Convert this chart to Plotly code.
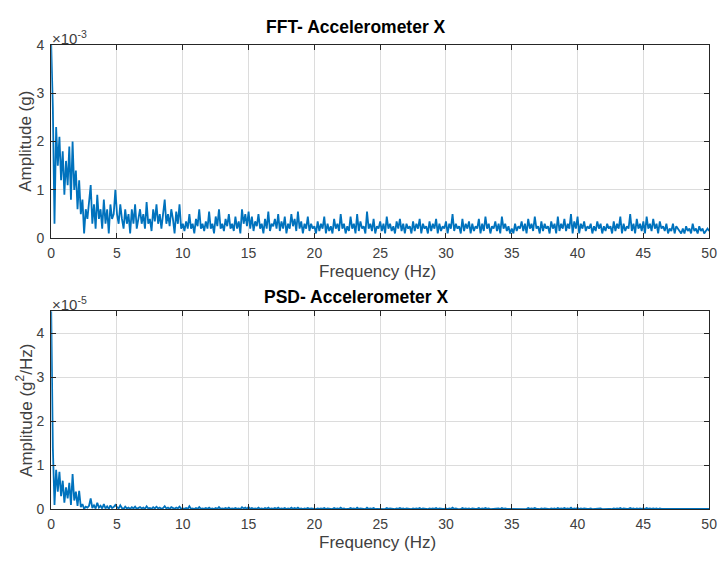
import numpy as np
import plotly.graph_objects as go

# Frequency axis step 0.125 Hz, 0..50 Hz
freq_step = 0.125
# FFT amplitude (x1e-3 g), 8 samples per Hz
fft_amp = [
    4.0, 2.7, 0.3, 2.3, 1.5, 2.1, 1.2, 1.8,
    0.9, 1.6, 1.1, 1.9, 0.8, 2.0, 1.0, 1.4,
    0.6, 1.2, 0.5, 0.8, 0.1, 0.6, 0.4, 0.7,
    1.1, 0.3, 0.7, 0.2, 0.9, 0.4, 0.6, 0.2,
    0.8, 0.3, 0.6, 0.1, 0.7, 0.4, 0.5, 1.0,
    0.5, 0.3, 0.7, 0.4, 0.2, 0.6, 0.3, 0.5,
    0.1, 0.6, 0.3, 0.7, 0.2, 0.4, 0.6, 0.3,
    0.5, 0.2, 0.75, 0.3, 0.4, 0.15, 0.6, 0.35,
    0.7, 0.3, 0.5, 0.2, 0.45, 0.8, 0.3, 0.5,
    0.25, 0.6, 0.4, 0.1, 0.55, 0.3, 0.7, 0.2,
    0.3, 0.15, 0.35, 0.2, 0.5, 0.2, 0.3, 0.1,
    0.4, 0.25, 0.6, 0.2, 0.3, 0.15, 0.35, 0.2,
    0.55, 0.2, 0.3, 0.1, 0.45, 0.25, 0.6, 0.2,
    0.3, 0.15, 0.4, 0.25, 0.5, 0.2, 0.3, 0.15,
    0.45, 0.2, 0.35, 0.1, 0.6, 0.3, 0.5, 0.25,
    0.55, 0.2, 0.45, 0.15, 0.35, 0.25, 0.5, 0.2,
    0.3, 0.1, 0.4, 0.2, 0.55, 0.15, 0.3, 0.25,
    0.4, 0.2, 0.5, 0.15, 0.35, 0.2, 0.45, 0.1,
    0.3, 0.2, 0.5, 0.25, 0.4, 0.15, 0.55, 0.2,
    0.35, 0.1, 0.3, 0.2, 0.45, 0.15, 0.3, 0.2,
    0.25, 0.1, 0.35, 0.15, 0.3, 0.2, 0.45, 0.1,
    0.3, 0.15, 0.25, 0.1, 0.4, 0.2, 0.3, 0.15,
    0.5, 0.2, 0.3, 0.1, 0.25, 0.15, 0.45, 0.2,
    0.3, 0.1, 0.5, 0.15, 0.35, 0.2, 0.25, 0.1,
    0.55, 0.2, 0.3, 0.15, 0.4, 0.1, 0.25, 0.2,
    0.35, 0.15, 0.3, 0.1, 0.45, 0.2, 0.3, 0.15,
    0.25, 0.1, 0.35, 0.2, 0.4, 0.15, 0.3, 0.1,
    0.3, 0.2, 0.25, 0.1, 0.35, 0.15, 0.3, 0.2,
    0.4, 0.1, 0.3, 0.2, 0.25, 0.1, 0.35, 0.15,
    0.3, 0.2, 0.4, 0.1, 0.3, 0.15, 0.25, 0.2,
    0.35, 0.1, 0.3, 0.2, 0.5, 0.15, 0.3, 0.2,
    0.25, 0.1, 0.4, 0.15, 0.3, 0.2, 0.35, 0.1,
    0.3, 0.15, 0.25, 0.2, 0.4, 0.1, 0.3, 0.15,
    0.45, 0.2, 0.3, 0.1, 0.25, 0.2, 0.35, 0.15,
    0.3, 0.1, 0.45, 0.2, 0.3, 0.15, 0.25, 0.1,
    0.2, 0.1, 0.3, 0.15, 0.25, 0.2, 0.35, 0.15,
    0.3, 0.1, 0.4, 0.2, 0.3, 0.15, 0.45, 0.2,
    0.25, 0.1, 0.35, 0.15, 0.3, 0.2, 0.25, 0.1,
    0.35, 0.2, 0.3, 0.1, 0.45, 0.15, 0.3, 0.2,
    0.4, 0.15, 0.3, 0.2, 0.5, 0.1, 0.35, 0.2,
    0.45, 0.1, 0.3, 0.2, 0.35, 0.15, 0.25, 0.2,
    0.3, 0.1, 0.25, 0.15, 0.35, 0.2, 0.3, 0.1,
    0.25, 0.15, 0.3, 0.2, 0.25, 0.1, 0.35, 0.15,
    0.3, 0.2, 0.45, 0.1, 0.3, 0.15, 0.25, 0.2,
    0.5, 0.15, 0.3, 0.1, 0.4, 0.2, 0.3, 0.15,
    0.35, 0.1, 0.45, 0.2, 0.3, 0.15, 0.4, 0.2,
    0.3, 0.1, 0.35, 0.2, 0.25, 0.15, 0.3, 0.1,
    0.2, 0.15, 0.3, 0.1, 0.25, 0.2, 0.15, 0.1,
    0.2, 0.1, 0.25, 0.15, 0.2, 0.1, 0.3, 0.15,
    0.2, 0.1, 0.25, 0.15, 0.2, 0.1, 0.15, 0.2,
    0.15,
]

# PSD amplitude (x1e-5 g^2/Hz), 8 samples per Hz
psd_amp = [
    4.5, 1.4, 0.1, 0.9, 0.4, 0.85, 0.3, 0.65,
    0.15, 0.5, 0.25, 0.6, 0.1, 0.8, 0.2, 0.4,
    0.08, 0.42, 0.05, 0.12, 0.01, 0.06, 0.04, 0.08,
    0.25, 0.03, 0.09, 0.02, 0.15, 0.04, 0.08, 0.02,
    0.12, 0.02, 0.07, 0.01, 0.09, 0.03, 0.05, 0.1,
    0.05, 0.02, 0.09, 0.03, 0.01, 0.06, 0.02, 0.04,
    0.01, 0.05, 0.02, 0.06, 0.01, 0.03, 0.05, 0.02,
    0.04, 0.01, 0.07, 0.02, 0.03, 0.01, 0.05, 0.02,
    0.06, 0.02, 0.04, 0.01, 0.03, 0.07, 0.02, 0.04,
    0.01, 0.05, 0.03, 0.01, 0.04, 0.02, 0.06, 0.01,
    0.02, 0.01, 0.03, 0.01, 0.07, 0.01, 0.02, 0.005,
    0.03, 0.01, 0.05, 0.01, 0.02, 0.01, 0.03, 0.01,
    0.04, 0.01, 0.02, 0.005, 0.03, 0.01, 0.05, 0.01,
    0.02, 0.01, 0.03, 0.01, 0.04, 0.01, 0.02, 0.01,
    0.03, 0.01, 0.02, 0.005, 0.05, 0.02, 0.04, 0.01,
    0.05, 0.01, 0.03, 0.01, 0.02, 0.01, 0.04, 0.01,
    0.02, 0.005, 0.03, 0.01, 0.04, 0.01, 0.02, 0.01,
    0.03, 0.01, 0.04, 0.01, 0.02, 0.01, 0.03, 0.005,
    0.02, 0.01, 0.04, 0.01, 0.03, 0.01, 0.04, 0.01,
    0.02, 0.005, 0.02, 0.01, 0.03, 0.01, 0.02, 0.01,
    0.01, 0.005, 0.02, 0.01, 0.02, 0.01, 0.03, 0.005,
    0.02, 0.01, 0.01, 0.005, 0.03, 0.01, 0.02, 0.01,
    0.04, 0.01, 0.02, 0.005, 0.01, 0.01, 0.03, 0.01,
    0.02, 0.005, 0.04, 0.01, 0.02, 0.01, 0.01, 0.005,
    0.04, 0.01, 0.02, 0.01, 0.03, 0.005, 0.01, 0.01,
    0.02, 0.01, 0.02, 0.005, 0.03, 0.01, 0.02, 0.01,
    0.01, 0.005, 0.02, 0.01, 0.03, 0.01, 0.02, 0.005,
    0.02, 0.01, 0.01, 0.005, 0.02, 0.01, 0.02, 0.01,
    0.03, 0.005, 0.02, 0.01, 0.01, 0.005, 0.02, 0.01,
    0.02, 0.01, 0.03, 0.005, 0.02, 0.01, 0.01, 0.01,
    0.02, 0.005, 0.02, 0.01, 0.04, 0.01, 0.02, 0.01,
    0.01, 0.005, 0.03, 0.01, 0.02, 0.01, 0.02, 0.005,
    0.02, 0.01, 0.01, 0.01, 0.03, 0.005, 0.02, 0.01,
    0.03, 0.01, 0.02, 0.005, 0.01, 0.01, 0.02, 0.01,
    0.02, 0.005, 0.03, 0.01, 0.02, 0.01, 0.01, 0.005,
    0.01, 0.005, 0.02, 0.01, 0.01, 0.01, 0.02, 0.01,
    0.02, 0.005, 0.03, 0.01, 0.02, 0.01, 0.03, 0.01,
    0.01, 0.005, 0.02, 0.01, 0.02, 0.01, 0.01, 0.005,
    0.02, 0.01, 0.02, 0.005, 0.03, 0.01, 0.02, 0.01,
    0.03, 0.01, 0.02, 0.01, 0.04, 0.005, 0.02, 0.01,
    0.03, 0.005, 0.02, 0.01, 0.02, 0.01, 0.01, 0.01,
    0.02, 0.005, 0.01, 0.01, 0.02, 0.01, 0.02, 0.005,
    0.01, 0.01, 0.02, 0.01, 0.01, 0.005, 0.02, 0.01,
    0.02, 0.01, 0.03, 0.005, 0.02, 0.01, 0.01, 0.01,
    0.03, 0.01, 0.02, 0.005, 0.02, 0.01, 0.02, 0.01,
    0.02, 0.005, 0.03, 0.01, 0.02, 0.01, 0.02, 0.01,
    0.02, 0.005, 0.02, 0.01, 0.01, 0.01, 0.02, 0.005,
    0.01, 0.01, 0.02, 0.005, 0.01, 0.01, 0.01, 0.005,
    0.01, 0.005, 0.01, 0.01, 0.01, 0.005, 0.02, 0.01,
    0.01, 0.005, 0.01, 0.01, 0.01, 0.005, 0.01, 0.01,
    0.01,
]

x_ticks = [0, 5, 10, 15, 20, 25, 30, 35, 40, 45, 50]
y_ticks_fft = [0, 1, 2, 3, 4]
y_ticks_psd = [0, 1, 2, 3, 4]

freq = np.arange(len(fft_amp)) * freq_step
freq_psd = np.arange(len(psd_amp)) * freq_step

W, H = 726, 563
def px_x(p):
    return p / W
def px_y(p):
    return 1 - p / H

line_color = "#0072BD"
axis_color = "#262626"
grid_color = "#dcdcdc"
FONT = "Liberation Sans, Arial, sans-serif"
tick_font = dict(family=FONT, size=14, color="#404040")

fig = go.Figure()
fig.add_trace(go.Scatter(x=freq, y=fft_amp, mode="lines",
                         line=dict(color=line_color, width=1.8),
                         xaxis="x", yaxis="y", showlegend=False))
fig.add_trace(go.Scatter(x=freq_psd, y=psd_amp, mode="lines",
                         line=dict(color=line_color, width=1.8),
                         xaxis="x2", yaxis="y2", showlegend=False))

common_x = dict(range=[0, 50], tickvals=x_ticks, ticks="inside", ticklen=5,
                tickcolor=axis_color, showline=True, linecolor=axis_color, linewidth=1,
                mirror="ticks", showgrid=True, gridcolor=grid_color, gridwidth=1,
                zeroline=False, tickfont=tick_font, ticklabelstandoff=2,
                domain=[px_x(48), px_x(717)])
common_y = dict(ticks="inside", ticklen=5, tickcolor=axis_color, showline=True,
                linecolor=axis_color, linewidth=1, mirror="ticks", showgrid=True,
                gridcolor=grid_color, gridwidth=1, zeroline=False, tickfont=tick_font,
                ticklabelstandoff=3)

fig.update_layout(
    width=W, height=H,
    margin=dict(l=0, r=0, t=0, b=0),
    paper_bgcolor="white", plot_bgcolor="white",
    xaxis=dict(**common_x, anchor="y"),
    yaxis=dict(**common_y, range=[0, 4], tickvals=y_ticks_fft,
               domain=[px_y(237), px_y(38)], anchor="x"),
    xaxis2=dict(**common_x, anchor="y2"),
    yaxis2=dict(**common_y, range=[0, 4.5], tickvals=y_ticks_psd,
                domain=[px_y(516), px_y(312)], anchor="x2"),
)

title_font = dict(family=FONT, size=17.5, color="black")
label_font = dict(family=FONT, size=17, color="#404040")
exp_font = dict(family=FONT, size=15, color="#404040")

ann = [
    dict(text="<b>FFT- Accelerometer X</b>", x=px_x(358), y=px_y(20), font=title_font),
    dict(text="<b>PSD- Accelerometer X</b>", x=px_x(358), y=px_y(297), font=title_font),
    dict(text="Frequency (Hz)", x=px_x(380), y=px_y(271), font=label_font),
    dict(text="Frequency (Hz)", x=px_x(380), y=px_y(550), font=label_font),
    dict(text="Amplitude (g)", x=px_x(21), y=px_y(137), font=label_font, textangle=-90),
    dict(text="Amplitude (g<sup>2</sup>/Hz)", x=px_x(21), y=px_y(414), font=label_font, textangle=-90),
    dict(text="×10<sup>-3</sup>", x=px_x(47), y=px_y(30), font=exp_font, xanchor="left"),
    dict(text="×10<sup>-5</sup>", x=px_x(47), y=px_y(304), font=exp_font, xanchor="left"),
]
for a in ann:
    a.setdefault("xanchor", "center")
    a.update(xref="paper", yref="paper", yanchor="middle", showarrow=False)
fig.update_layout(annotations=ann)

fig.write_html("out.html")
